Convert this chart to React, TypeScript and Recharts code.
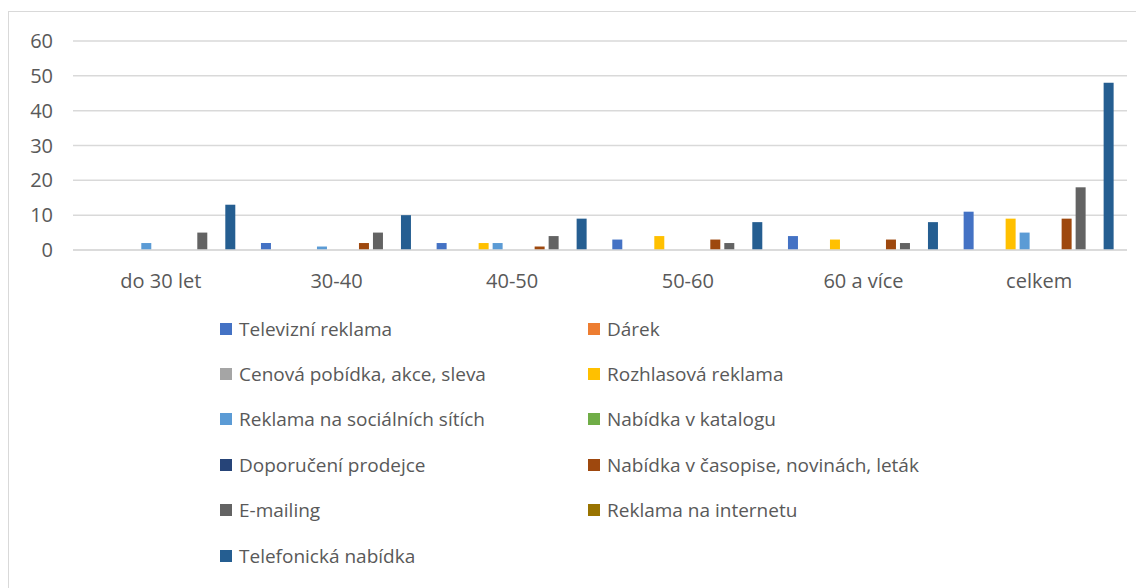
import React from 'react';
import { BarChart, Bar, XAxis, YAxis, CartesianGrid } from 'recharts';

const categories = ['do 30 let', '30-40', '40-50', '50-60', '60 a více', 'celkem'];

const televizni = [0, 2, 2, 3, 4, 11];
const darek = [0, 0, 0, 0, 0, 0];
const cenova = [0, 0, 0, 0, 0, 0];
const rozhlas = [0, 0, 2, 4, 3, 9];
const socialni = [2, 1, 2, 0, 0, 5];
const katalog = [0, 0, 0, 0, 0, 0];
const doporuceni = [0, 0, 0, 0, 0, 0];
const casopis = [0, 2, 1, 3, 3, 9];
const emailing = [5, 5, 4, 2, 2, 18];
const internet = [0, 0, 0, 0, 0, 0];
const telefon = [13, 10, 9, 8, 8, 48];

const yTicks = [0, 10, 20, 30, 40, 50, 60];

const SERIES = [
  { key: 'tv', name: 'Televizní reklama', color: '#4472C4', values: televizni },
  { key: 'darek', name: 'Dárek', color: '#ED7D31', values: darek },
  { key: 'cena', name: 'Cenová pobídka, akce, sleva', color: '#A5A5A5', values: cenova },
  { key: 'radio', name: 'Rozhlasová reklama', color: '#FFC000', values: rozhlas },
  { key: 'social', name: 'Reklama na sociálních sítích', color: '#5B9BD5', values: socialni },
  { key: 'katalog', name: 'Nabídka v katalogu', color: '#70AD47', values: katalog },
  { key: 'prodejce', name: 'Doporučení prodejce', color: '#264478', values: doporuceni },
  { key: 'casopis', name: 'Nabídka v časopise, novinách, leták', color: '#9E480E', values: casopis },
  { key: 'email', name: 'E-mailing', color: '#636363', values: emailing },
  { key: 'internet', name: 'Reklama na internetu', color: '#997300', values: internet },
  { key: 'telefon', name: 'Telefonická nabídka', color: '#255E91', values: telefon },
];

const FONT = '"Open Sans", "Liberation Sans", sans-serif';
const TEXT = '#595959';

// legend is laid out like Excel's: two columns, row by row
const LegendBox = () => (
  <div
    style={{
      position: 'absolute',
      left: 211,
      top: 294,
      display: 'grid',
      gridTemplateColumns: '368px 360px',
      gridAutoRows: '45.4px',
      fontFamily: FONT,
      fontSize: 19,
      color: TEXT,
    }}
  >
    {SERIES.map((s) => (
      <div key={s.key} style={{ display: 'flex', alignItems: 'center', whiteSpace: 'nowrap' }}>
        <span style={{ width: 12, height: 12, background: s.color, marginRight: 7, display: 'inline-block' }} />
        {s.name}
      </div>
    ))}
  </div>
);

export default function App() {
  const data = categories.map((c, i) => {
    const row: Record<string, string | number> = { name: c };
    SERIES.forEach((s) => {
      row[s.key] = s.values[i];
    });
    return row;
  });

  return (
    <div
      style={{
        position: 'relative',
        width: 1134,
        height: 580,
        marginTop: 3,
        border: '1px solid #D9D9D9',
        background: '#fff',
      }}
    >
      <BarChart
        width={1134}
        height={578}
        data={data}
        margin={{ top: 29, right: 16, left: 0, bottom: 310 }}
        barCategoryGap="7%"
        barGap={4}
      >
        <CartesianGrid vertical={false} stroke="#D9D9D9" strokeWidth={1.5} />
        <XAxis
          dataKey="name"
          height={30}
          tickLine={false}
          axisLine={{ stroke: '#D9D9D9', strokeWidth: 1.5 }}
          tickMargin={18}
          tick={{ fill: TEXT, fontSize: 20, fontFamily: FONT }}
        />
        <YAxis
          width={64}
          domain={[0, 60]}
          ticks={yTicks}
          axisLine={false}
          tickLine={false}
          tickMargin={14}
          tick={{ fill: TEXT, fontSize: 20, fontFamily: FONT }}
        />
        {SERIES.map((s) => (
          <Bar key={s.key} dataKey={s.key} name={s.name} fill={s.color} isAnimationActive={false} />
        ))}
      </BarChart>
      <LegendBox />
    </div>
  );
}
